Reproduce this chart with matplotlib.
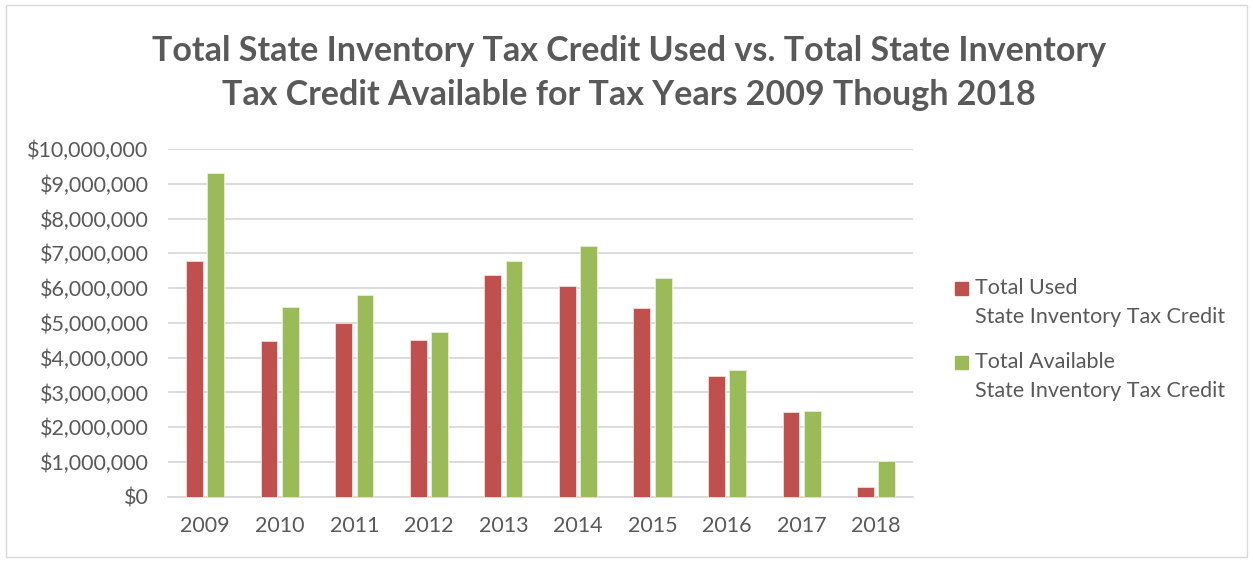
import matplotlib.pyplot as plt
import numpy as np
from matplotlib.patches import Rectangle
from matplotlib.ticker import FuncFormatter

plt.rcParams['font.family'] = ['Lato', 'DejaVu Sans']

# %% Data
years = ['2009', '2010', '2011', '2012', '2013', '2014', '2015', '2016', '2017', '2018']
used = [6.79, 4.47, 5.00, 4.50, 6.38, 6.06, 5.44, 3.48, 2.43, 0.28]        # $M
available = [9.30, 5.45, 5.81, 4.74, 6.77, 7.20, 6.28, 3.65, 2.46, 1.04]   # $M
used = [v * 1e6 for v in used]
available = [v * 1e6 for v in available]

red = '#C0504D'
green = '#9BBB59'
txt = '#595959'
grid = '#D9D9D9'

# %% Plot
fig = plt.figure(figsize=(12.53, 5.62), dpi=100)
ax = fig.add_axes([0.134, 0.116, 0.595, 0.619])

x = np.arange(len(years))
w = 0.224
off = 0.143
ax.bar(x - off, used, w, color=red, edgecolor='#F2DCDB', linewidth=0.6, zorder=3)
ax.bar(x + off, available, w, color=green, edgecolor='#E6EED5', linewidth=0.6, zorder=3)

ax.set_xlim(-0.5, len(years) - 0.5)
ax.set_ylim(0, 10e6)
ax.set_yticks(np.arange(0, 10e6 + 1, 1e6))
ax.yaxis.set_major_formatter(FuncFormatter(lambda v, p: '${:,.0f}'.format(v)))
ax.set_xticks(x)
ax.set_xticklabels(years)
ax.tick_params(length=0, labelsize=15.5, colors=txt)
ax.tick_params(axis='y', pad=14)
ax.tick_params(axis='x', pad=14)
ax.grid(axis='y', color=grid, linewidth=1.3, zorder=0)
for s in ['top', 'right', 'left']:
    ax.spines[s].set_visible(False)
ax.spines['bottom'].set_color(grid)
ax.spines['bottom'].set_linewidth(1.3)

fig.suptitle('Total State Inventory Tax Credit Used vs. Total State Inventory\n'
             'Tax Credit Available for Tax Years 2009 Though 2018',
             x=0.502, y=0.937, fontsize=24.5, fontweight='bold', color=txt,
             linespacing=1.45)

# legend, drawn by hand so the square sits on the first line
legend = [(red, 'Total Used'), (green, 'Total Available')]
for i, (c, lab) in enumerate(legend):
    y0 = 1 - (288 + 74 * i) / 562
    fig.patches.append(Rectangle((955 / 1253, y0 - 6.5 / 562), 13 / 1253, 13 / 562,
                                 transform=fig.transFigure, color=c))
    fig.text(975 / 1253, y0, lab, fontsize=15.5, color=txt, va='center')
    fig.text(975 / 1253, y0 - 29 / 562, 'State Inventory Tax Credit',
             fontsize=15.5, color=txt, va='center')

# outer frame
fig.patches.append(Rectangle((6 / 1253, 5 / 562), 1241 / 1253, 552 / 562,
                             transform=fig.transFigure, fill=False,
                             edgecolor='#D9D9D9', linewidth=1))

fig.savefig('out.png', dpi=100)
